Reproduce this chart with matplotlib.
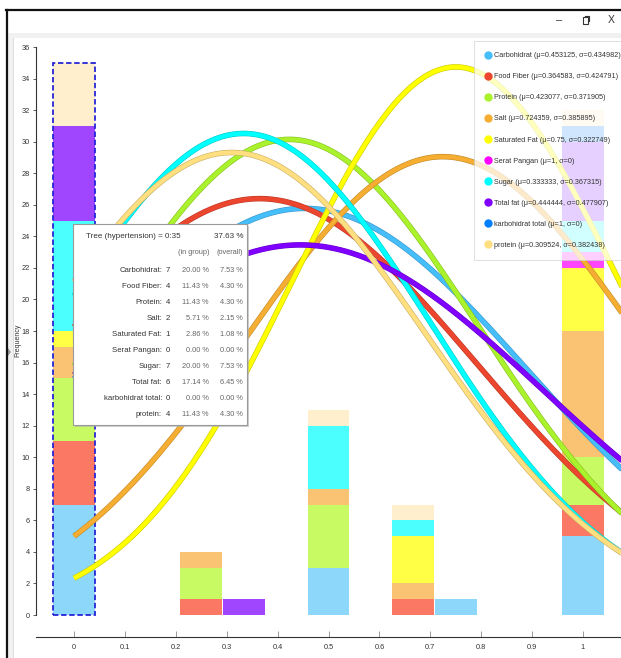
import numpy as np
import matplotlib
matplotlib.use("Agg")
import matplotlib.pyplot as plt
from matplotlib import font_manager
from matplotlib.patches import Rectangle, Polygon
from matplotlib.lines import Line2D
import matplotlib.patheffects as pe

W, H = 621, 658

# font stretta se c'e', altrimenti Liberation Sans
installati = {f.name for f in font_manager.fontManager.ttflist}
if "Liberation Sans Narrow" in installati:
    FONT, fs = "Liberation Sans Narrow", 6.0
else:
    FONT, fs = "Liberation Sans", 5.3
plt.rcParams["font.family"] = [FONT, "DejaVu Sans"]

# dati
nomi = ["Carbohidrat", "Food Fiber", "Protein", "Salt", "Saturated Fat",
        "Serat Pangan", "Sugar", "Total fat", "karbohidrat total", "protein"]
colori = ["#46befa", "#ed462f", "#aaf22b", "#f5ae32", "#ffff00",
          "#ff00ff", "#00ffff", "#8000ff", "#0080ff", "#ffdf80"]
colori_barre = ["#8cd7fa", "#fa7864", "#c8fa64", "#fac373", "#ffff46",
                "#ff46ff", "#4bffff", "#a046ff", "#46a0ff", "#ffefcd"]
mu = [0.453125, 0.364583, 0.423077, 0.724359, 0.75, 1, 0.333333, 0.444444, 1, 0.309524]
sigma = [0.434982, 0.424791, 0.371905, 0.385895, 0.322749, 0, 0.367315, 0.477907, 0, 0.382438]
mu_txt = ["0.453125", "0.364583", "0.423077", "0.724359", "0.75", "1",
          "0.333333", "0.444444", "1", "0.309524"]
sigma_txt = ["0.434982", "0.424791", "0.371905", "0.385895", "0.322749", "0",
             "0.367315", "0.477907", "0", "0.382438"]

bins = [0, 0.25, 1 / 3, 0.5, 2 / 3, 0.75, 1]
carbohidrat = [7, 0, 0, 3, 0, 1, 5]
food_fiber = [4, 1, 0, 0, 1, 0, 2]
protein_cap = [4, 2, 0, 4, 0, 0, 3]
salt = [2, 1, 0, 1, 1, 0, 8]
saturated_fat = [1, 0, 0, 0, 3, 0, 4]
serat_pangan = [0, 0, 0, 0, 0, 0, 1]
sugar = [7, 0, 0, 4, 1, 0, 2]
total_fat = [6, 0, 1, 0, 0, 0, 5]
karbohidrat_total = [0, 0, 0, 0, 0, 0, 1]
protein_min = [4, 0, 0, 1, 1, 0, 1]
serie = [carbohidrat, food_fiber, protein_cap, salt, saturated_fat,
         serat_pangan, sugar, total_fat, karbohidrat_total, protein_min]

curve_scale = 28.1
larghezza_bin = 1 / 12

fig = plt.figure(figsize=(W / 100, H / 100), dpi=100)
fig.patch.set_facecolor("white")

def fx(px):
    return px / W

def fy(py):
    return 1 - py / H

# cornice finestra
fig.add_artist(Rectangle((fx(8), fy(38)), fx(613), fy(33) - fy(38), transform=fig.transFigure,
                         facecolor="#f1f1f1", edgecolor="none", zorder=-5))
fig.add_artist(Rectangle((fx(8), 0), fx(5), fy(33), transform=fig.transFigure,
                         facecolor="#f1f1f1", edgecolor="none", zorder=-5))
fig.add_artist(Line2D([fx(13), fx(13)], [0, fy(38)], transform=fig.transFigure,
                      color="#dddddd", lw=0.7))
fig.add_artist(Line2D([fx(6), 1], [fy(10), fy(10)], transform=fig.transFigure,
                      color="#111111", lw=1.6))
fig.add_artist(Line2D([fx(7), fx(7)], [0, fy(10)], transform=fig.transFigure,
                      color="#111111", lw=1.6))
fig.add_artist(Polygon([(fx(8), fy(348)), (fx(11), fy(352)), (fx(8), fy(356))], closed=True,
                       transform=fig.transFigure, facecolor="#9a9a9a", edgecolor="none"))
fig.text(fx(559), fy(20), "\u2013", ha="center", va="center", fontsize=8, color="#333333")
fig.add_artist(Rectangle((fx(583), fy(24)), fx(5), fy(17) - fy(24), transform=fig.transFigure,
                         facecolor="white", edgecolor="#333333", lw=0.8, zorder=4))
fig.add_artist(Line2D([fx(585), fx(589), fx(589)], [fy(16), fy(16), fy(21)],
                      transform=fig.transFigure, color="#333333", lw=0.8))
fig.text(fx(611), fy(20), "X", ha="center", va="center", fontsize=7.5, color="#333333")

ax = fig.add_axes([fx(36), fy(615), fx(585), fy(47) - fy(615)])
ax.set_xlim(-0.0747, 1.0747)
ax.set_ylim(0, 36)

# barre impilate
base = np.zeros(len(bins))
for valori, col in zip(serie, colori_barre):
    ax.bar(bins, valori, width=larghezza_bin * 0.985, bottom=base, color=col,
           edgecolor="none", zorder=1)
    base = base + np.array(valori)

ax.add_patch(Rectangle((bins[0] - larghezza_bin / 2, 0), larghezza_bin, base[0],
                       fill=False, edgecolor="#2626d6", ls=(0, (3, 1.5)), lw=1.3,
                       zorder=2, clip_on=False))

# curve normali
xs = np.linspace(0, 1.1, 400)
for m, s, col in zip(mu, sigma, colori):
    if s == 0:
        continue
    ys = curve_scale * np.exp(-(xs - m) ** 2 / (2 * s ** 2)) / (s * np.sqrt(2 * np.pi))
    scuro = tuple(c * 0.78 for c in matplotlib.colors.to_rgb(col))
    ax.plot(xs, ys, color=col, lw=3.2, solid_capstyle="butt", zorder=3,
            path_effects=[pe.Stroke(linewidth=4.0, foreground=scuro), pe.Normal()])

# assi
for lato in ["top", "right"]:
    ax.spines[lato].set_visible(False)
ax.spines["bottom"].set_position(("outward", 15.8))
ax.spines["bottom"].set_color("#333333")
ax.spines["left"].set_color("#333333")
ax.spines["left"].set_linewidth(0.8)
ax.set_yticks(range(0, 37, 2))
ax.set_xticks([0, 0.1, 0.2, 0.3, 0.4, 0.5, 0.6, 0.7, 0.8, 0.9, 1])
ax.set_xticklabels(["0", "0.1", "0.2", "0.3", "0.4", "0.5", "0.6", "0.7", "0.8", "0.9", "1"])
ax.tick_params(axis="y", length=2.5, width=0.6, pad=2, labelsize=fs, labelcolor="#333333",
               color="#444444")
ax.tick_params(axis="x", direction="in", length=4, width=0.6, pad=5, labelsize=fs,
               labelcolor="#333333", color="#888888")
ax.set_ylabel("Frequency", fontsize=fs - 0.3, color="#333333")
ax.yaxis.set_label_coords(-0.0256, 0.484)

# legenda
maniglie = [Line2D([], [], marker="o", ls="none", markersize=5, color=c) for c in colori]
etichette = [f"{n} (\u03bc={m}, \u03c3={s})" for n, m, s in zip(nomi, mu_txt, sigma_txt)]
leg = ax.legend(maniglie, etichette, loc="upper left", bbox_to_anchor=(fx(474), fy(41)),
                bbox_transform=fig.transFigure, fontsize=5.2, frameon=True, fancybox=False,
                framealpha=0.75, edgecolor="#cccccc", labelspacing=1.94, handlelength=0.7,
                handletextpad=0.5, borderpad=1.55, borderaxespad=0)
leg.get_frame().set_linewidth(0.6)
for t in leg.get_texts():
    t.set_color("#333333")

# tooltip
fig.add_artist(Rectangle((fx(75), fy(427)), fx(174), fy(226) - fy(427), transform=fig.transFigure,
                         facecolor="#b0b0b0", edgecolor="none", alpha=0.6, zorder=9))
fig.add_artist(Rectangle((fx(73), fy(425)), fx(174), fy(224) - fy(425), transform=fig.transFigure,
                         facecolor="white", edgecolor="#9a9a9a", lw=0.8, zorder=10))
tot = base.sum()
gruppo = base[0]
fig.text(fx(86), fy(237), f"Tree (hypertension) = 0:{int(gruppo)}", ha="left", va="center",
         fontsize=fs + 0.5, color="#333333", zorder=11)
fig.text(fx(243), fy(237), f"{gruppo / tot * 100:.2f} %", ha="right", va="center",
         fontsize=fs + 0.5, color="#333333", zorder=11)
fig.text(fx(209), fy(253), "(in group)", ha="right", va="center", fontsize=fs,
         color="#666666", zorder=11)
fig.text(fx(243), fy(253), "(overall)", ha="right", va="center", fontsize=fs,
         color="#666666", zorder=11)
for i, (n, valori) in enumerate(zip(nomi, serie)):
    y = 270 + i * 16
    c = valori[0]
    fig.text(fx(162), fy(y), n + ":", ha="right", va="center", fontsize=fs + 0.3,
             color="#333333", zorder=11)
    fig.text(fx(168), fy(y), str(c), ha="center", va="center", fontsize=fs + 0.3,
             color="#333333", zorder=11)
    fig.text(fx(209), fy(y), f"{c / gruppo * 100:.2f} %", ha="right", va="center",
             fontsize=fs, color="#666666", zorder=11)
    fig.text(fx(243), fy(y), f"{c / tot * 100:.2f} %", ha="right", va="center",
             fontsize=fs, color="#666666", zorder=11)

fig.savefig("out.png", dpi=100)
